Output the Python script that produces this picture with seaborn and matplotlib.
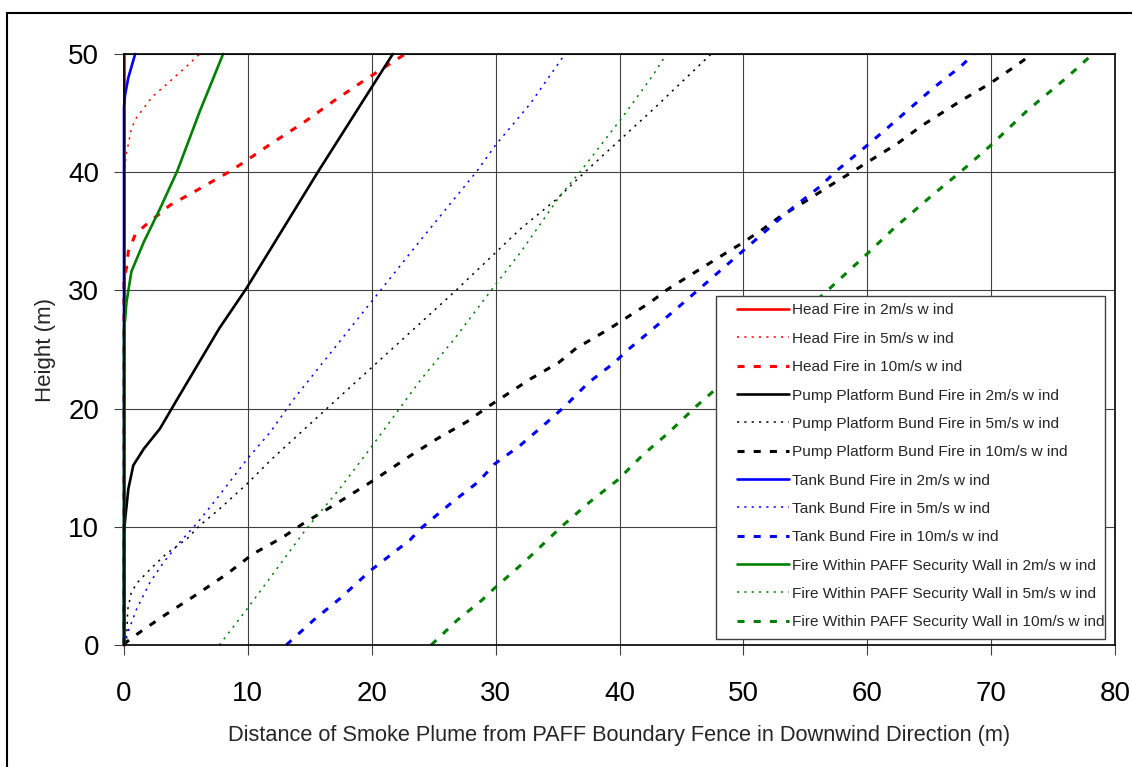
import matplotlib
matplotlib.use("Agg")
import matplotlib.pyplot as plt
import matplotlib.patches as patches
import seaborn as sns

# smoke plume trajectories
# distance downwind (m) and height (m) for each fire / wind speed
head2_x = [0, 0]
head2_y = [0, 50]
head5_x = [0, 0, 0.2, 0.6, 1.0, 2.3, 3.4, 5.1, 6.1]
head5_y = [0, 40, 41.6, 43.7, 44.6, 46.4, 47.4, 49.0, 50]
head10_x = [0, 0, 0.2, 0.35, 0.9, 1.6, 3.7, 6.1, 8.6, 9.9, 12.0, 14.5, 16.9, 19.3, 21.5, 22.7]
head10_y = [0, 31, 31.9, 33.3, 34.7, 35.4, 37.2, 38.6, 40.1, 41.0, 42.5, 44.2, 46.0, 47.7, 49.2, 50]

pump2_x = [0, 0, 0.1, 0.35, 0.75, 1.6, 2.9, 4.3, 7.7, 9.9, 15.7, 21.7]
pump2_y = [0, 9.5, 10.7, 13.2, 15.2, 16.6, 18.3, 20.8, 26.8, 30.2, 40.1, 50]
pump5_x = [0, 0.2, 0.3, 0.6, 1.1, 2.1, 3.4, 5.1, 6.1, 7.7, 9.9, 12.0, 14.5, 17.2,
           24.2, 26.9, 30.0, 32.0, 34.9, 37.3, 40.0, 42.7, 45.4, 47.4]
pump5_y = [0, 0.25, 3.0, 4.5, 5.3, 6.4, 7.7, 9.0, 10.1, 11.5, 13.6, 15.8, 18.2, 20.8,
           27.5, 30.1, 33.2, 35.2, 37.7, 40.1, 42.7, 45.3, 48.0, 50]
pump10_x = [0, 0.2, 1.3, 3.4, 5.9, 8.3, 10.4, 12.8, 14.5, 16.9, 20.1, 23.1, 25.2, 27.7,
            29.3, 32.8, 35.1, 36.5, 39.1, 42.5, 43.9, 46.5, 48.8, 49.9, 51.6, 52.9,
            54.8, 57.2, 58.9, 60.1, 62.4, 64.5, 67.5, 69.9, 72.0, 73.3]
pump10_y = [0, 0.25, 1.1, 2.6, 4.3, 6.0, 7.7, 9.1, 10.3, 11.8, 13.9, 16.0, 17.4, 18.9,
            20.1, 22.5, 23.9, 25.1, 26.7, 29.0, 30.1, 31.8, 33.3, 34.0, 35.2, 36.2,
            37.4, 39.0, 40.1, 40.9, 42.4, 44.0, 46.0, 47.5, 49.0, 50]

tank2_x = [0, 0, 0.08, 0.35, 0.9]
tank2_y = [0, 45.5, 46.5, 48, 50]
tank5_x = [0, 0.2, 0.5, 1.0, 2.1, 3.2, 4.5, 5.9, 7.5, 10.0, 11.8, 13.7, 23.9, 28.5, 30.0, 32.8, 35.6]
tank5_y = [0, 0.8, 1.6, 3.0, 5.3, 7.0, 8.7, 10.3, 12.4, 15.8, 18.0, 20.8, 34.2, 40.1, 42.3, 45.8, 50]
tank10_x = [13.1, 15.3, 17.4, 19.9, 23.1, 24.0, 26.4, 28.6, 29.9, 32.0, 34.1, 35.6, 37.5, 39.6,
            40.6, 43.1, 45.1, 46.2, 48.6, 49.7, 52.1, 54.0, 56.2, 57.5, 59.8, 61.8, 62.9,
            65.3, 67.5, 68.6]
tank10_y = [0, 2.1, 3.9, 6.3, 8.9, 9.9, 12.0, 13.8, 15.3, 16.9, 18.8, 20.2, 22.2, 23.9,
            24.9, 27.1, 28.9, 29.9, 32.1, 33.1, 35.3, 37.0, 38.8, 40.1, 42.1, 43.9, 44.9,
            47.1, 48.9, 50.0]

wall2_x = [0, 0, 0.08, 0.2, 0.6, 1.6, 2.9, 4.3, 6.1, 8.0]
wall2_y = [0, 27, 27.4, 29, 31.6, 34.1, 36.9, 40.1, 45.1, 50]
wall5_x = [7.7, 9.9, 12.3, 14.7, 17.4, 20.0, 22.8, 24.0, 26.6, 30.0, 32.0, 35.2, 36.8, 40.2, 42.7, 43.8]
wall5_y = [0, 3.0, 6.4, 9.8, 13.2, 16.8, 20.8, 22.5, 25.8, 30.5, 33.2, 38.0, 40.0, 44.6, 48.2, 50]
wall10_x = [24.8, 26.9, 28.9, 29.9, 32.4, 35.3, 37.6, 39.9, 41.9, 43.9, 46.2, 56.7, 60.1,
            62.1, 65.3, 67.5, 69.9, 72.9, 76.1, 78.2]
wall10_y = [0, 2.1, 3.8, 4.8, 7.1, 10.0, 12.1, 14.0, 16.1, 17.9, 20.2, 29.9, 33.2,
            35.2, 38.1, 40.0, 42.2, 45.2, 48.0, 50]

fires = ["Head Fire", "Pump Platform Bund Fire", "Tank Bund Fire", "Fire Within PAFF Security Wall"]
winds = ["2m/s", "5m/s", "10m/s"]
fire_colors = ["#FF0000", "#000000", "#0000FF", "#008000"]
series = [
    [(head2_x, head2_y), (head5_x, head5_y), (head10_x, head10_y)],
    [(pump2_x, pump2_y), (pump5_x, pump5_y), (pump10_x, pump10_y)],
    [(tank2_x, tank2_y), (tank5_x, tank5_y), (tank10_x, tank10_y)],
    [(wall2_x, wall2_y), (wall5_x, wall5_y), (wall10_x, wall10_y)],
]

# solid / dotted / dashed per wind speed
wind_styles = [
    dict(linestyle="-", linewidth=1.9),
    dict(linestyle=(0, (1.4, 3.4)), linewidth=1.1),
    dict(linestyle=(0, (2.3, 3.0)), linewidth=2.2),
]

sns.set_theme(style="white")
plt.rcParams["font.family"] = ["Liberation Sans", "DejaVu Sans"]

fig = plt.figure(figsize=(11.32, 7.67), dpi=100)
ax = fig.add_axes([124 / 1132, 1 - 645 / 767, 991 / 1132, 591 / 767])

for fire, color, runs in zip(fires, fire_colors, series):
    for wind, style, (xs, ys) in zip(winds, wind_styles, runs):
        sns.lineplot(x=xs, y=ys, ax=ax, color=color, sort=False, estimator=None,
                     label=f"{fire} in {wind} w ind", clip_on=False, **style)

ax.set_xlim(0, 80)
ax.set_ylim(0, 50)
ax.set_xticks(range(0, 81, 10))
ax.set_yticks(range(0, 51, 10))
ax.grid(True, color="#404040", linewidth=0.8)
ax.set_axisbelow(True)
for sp in ax.spines.values():
    sp.set_color("black")
    sp.set_linewidth(1.2)
ax.tick_params(axis="both", direction="out", length=7, width=0.8, color="#404040",
               labelsize=20, colors="black", bottom=True, left=True)
ax.tick_params(axis="x", pad=19)
ax.tick_params(axis="y", pad=11)

ax.set_xlabel("Distance of Smoke Plume from PAFF Boundary Fence in Downwind Direction (m)", fontsize=15.65)
ax.set_ylabel("Height (m)", fontsize=16)
ax.xaxis.set_label_coords(0.5, -0.136)
ax.yaxis.set_label_coords(-0.069, 0.499)

# legend drawn without its own frame; the box is added separately so the
# text can sit close to the right edge like in the original
leg = ax.legend(loc="upper left", bbox_to_anchor=((737 - 124) / 991, (645 - 303.5) / 591),
                borderaxespad=0, borderpad=0, fontsize=11.1, frameon=False,
                handlelength=3.4, handletextpad=0.15, labelspacing=0.93)
ax.add_patch(patches.Rectangle(((716 - 124) / 991, (645 - 639) / 591),
                               (1105 - 716) / 991, (639 - 296) / 591,
                               transform=ax.transAxes, facecolor="white",
                               edgecolor="#404040", linewidth=1.0, zorder=4.9))
leg.set_zorder(5)

# outer chart border as in the original
fig.patches.append(patches.Rectangle((7 / 1132, -0.1), 1.5, 1.1 - 13 / 767,
                                     transform=fig.transFigure, fill=False,
                                     edgecolor="black", linewidth=1.5))

fig.savefig("out.png", dpi=100)
